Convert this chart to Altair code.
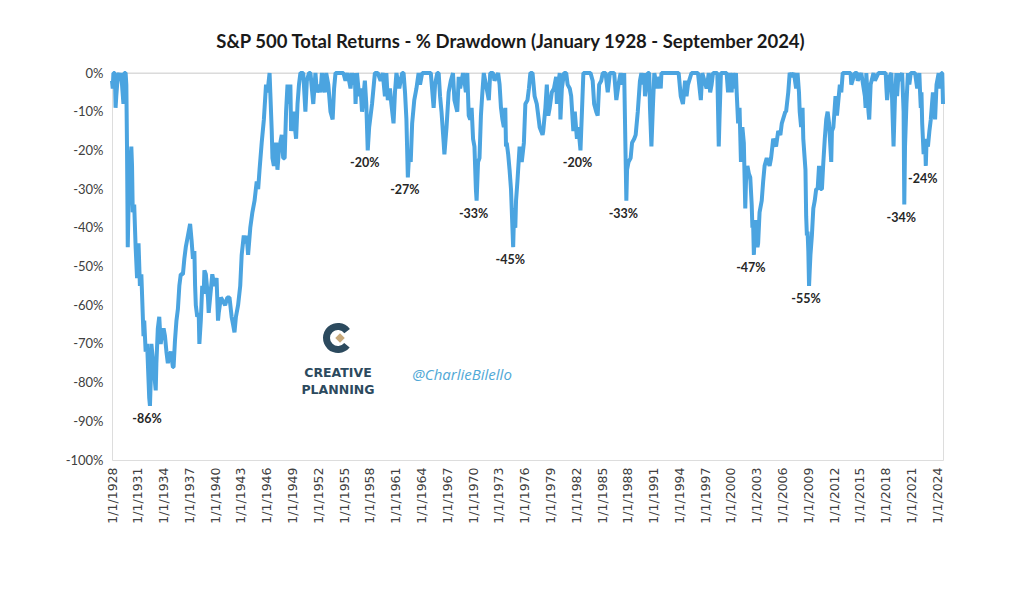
import altair as alt
import pandas as pd

# ---- data (month, % drawdown) ----
dates = [
 "1928-01","1928-02","1928-03","1928-05","1928-06","1928-07","1928-09","1928-11","1928-12",
 "1929-01","1929-03","1929-05","1929-06","1929-08","1929-09","1929-10","1929-11","1929-12",
 "1930-02","1930-04","1930-05","1930-06","1930-08","1930-10","1930-12",
 "1931-02","1931-04","1931-06","1931-09","1931-10","1931-12",
 "1932-02","1932-05","1932-06","1932-07","1932-08","1932-09","1932-11",
 "1933-02","1933-03","1933-05","1933-07","1933-09","1933-11",
 "1934-01","1934-03","1934-05","1934-07","1934-09","1934-11",
 "1935-02","1935-03","1935-05","1935-07","1935-09","1935-11",
 "1936-01","1936-04","1936-06","1936-08","1936-11",
 "1937-02","1937-04","1937-06","1937-08","1937-09","1937-10","1937-12",
 "1938-02","1938-03","1938-05","1938-07","1938-09","1938-10","1938-12",
 "1939-03","1939-04","1939-06","1939-09","1939-12",
 "1940-03","1940-05","1940-06","1940-09","1940-12",
 "1941-03","1941-06","1941-09","1941-12",
 "1942-02","1942-04","1942-06","1942-09","1942-12",
 "1943-02","1943-05","1943-07","1943-09","1943-11",
 "1944-02","1944-05","1944-08","1944-11",
 "1945-01","1945-03","1945-06","1945-09","1945-12",
 "1946-02","1946-05","1946-06","1946-08","1946-09","1946-11",
 "1947-02","1947-04","1947-06","1947-08","1947-10","1947-12",
 "1948-02","1948-04","1948-06","1948-08","1948-10","1948-11",
 "1949-02","1949-06","1949-08","1949-10","1949-12",
 "1950-04","1950-07","1950-09","1950-12",
 "1951-02","1951-06","1951-09","1951-11",
 "1952-02","1952-04","1952-06","1952-10","1952-12",
 "1953-03","1953-06","1953-09","1953-11",
 "1954-01","1954-06","1954-12",
 "1955-03","1955-06","1955-10","1955-12",
 "1956-02","1956-04","1956-05","1956-07","1956-10","1956-12",
 "1957-02","1957-06","1957-08","1957-10","1957-12",
 "1958-04","1958-08","1958-12",
 "1959-04","1959-07","1959-10","1959-12",
 "1960-02","1960-05","1960-07","1960-10","1960-12",
 "1961-02","1961-06","1961-10","1961-12",
 "1962-02","1962-04","1962-06","1962-08","1962-10","1962-12",
 "1963-03","1963-06","1963-09","1963-11",
 "1964-02","1964-06","1964-10",
 "1965-02","1965-06","1965-08","1965-11",
 "1966-01","1966-03","1966-05","1966-08","1966-09","1966-12",
 "1967-03","1967-06","1967-09","1967-11",
 "1968-03","1968-05","1968-07","1968-11",
 "1969-01","1969-03","1969-05","1969-07","1969-09","1969-11",
 "1970-01","1970-03","1970-05","1970-06","1970-08","1970-10","1970-12",
 "1971-02","1971-04","1971-06","1971-08","1971-11",
 "1972-01","1972-05","1972-07","1972-12",
 "1973-02","1973-04","1973-06","1973-08","1973-10","1973-11","1973-12",
 "1974-02","1974-04","1974-06","1974-07","1974-08","1974-09","1974-10","1974-12",
 "1975-01","1975-03","1975-06","1975-09","1975-12",
 "1976-02","1976-05","1976-07","1976-09","1976-12",
 "1977-03","1977-06","1977-08","1977-10",
 "1978-02","1978-03","1978-06","1978-08","1978-10","1978-12",
 "1979-03","1979-06","1979-09","1979-10","1979-12",
 "1980-02","1980-03","1980-05","1980-08","1980-11",
 "1981-01","1981-04","1981-06","1981-09","1981-11",
 "1982-02","1982-04","1982-07","1982-09","1982-11",
 "1983-03","1983-06","1983-09","1983-12",
 "1984-02","1984-05","1984-07","1984-09","1984-12",
 "1985-02","1985-06","1985-09","1985-12",
 "1986-03","1986-06","1986-09","1986-12",
 "1987-03","1987-05","1987-08","1987-10","1987-11","1987-12",
 "1988-02","1988-05","1988-07","1988-10","1988-12",
 "1989-03","1989-06","1989-08","1989-10","1989-12",
 "1990-01","1990-05","1990-07","1990-08","1990-10","1990-12",
 "1991-02","1991-06","1991-09","1991-11","1991-12",
 "1992-04","1992-09",
 "1993-03","1993-12",
 "1994-03","1994-06","1994-09","1994-11",
 "1995-01","1995-06","1995-12",
 "1996-03","1996-07","1996-09",
 "1997-03","1997-04","1997-06","1997-08","1997-10","1997-12",
 "1998-03","1998-06","1998-08","1998-09","1998-11",
 "1999-03","1999-07","1999-09","1999-12",
 "2000-02","2000-03","2000-05","2000-08","2000-09","2000-11",
 "2001-01","2001-03","2001-05","2001-07","2001-09","2001-10","2001-12",
 "2002-02","2002-04","2002-06","2002-07","2002-08","2002-09","2002-10","2002-11",
 "2003-02","2003-03","2003-05","2003-08","2003-10","2003-12",
 "2004-03","2004-07","2004-09","2004-12",
 "2005-04","2005-07","2005-10","2005-12",
 "2006-05","2006-06","2006-09","2006-11",
 "2007-02","2007-05","2007-08","2007-10","2007-12",
 "2008-01","2008-03","2008-05","2008-06","2008-09","2008-10","2008-11","2008-12",
 "2009-01","2009-02","2009-03","2009-04","2009-06","2009-08","2009-10","2009-12",
 "2010-02","2010-04","2010-06","2010-08","2010-10","2010-12",
 "2011-02","2011-04","2011-06","2011-09","2011-10","2011-12",
 "2012-03","2012-05","2012-09","2012-11",
 "2013-01","2013-06","2013-12",
 "2014-01","2014-06","2014-09","2014-10",
 "2015-03","2015-08","2015-09","2015-10",
 "2016-01","2016-02","2016-04","2016-08","2016-10",
 "2017-03","2017-12",
 "2018-01","2018-02","2018-03","2018-06","2018-09","2018-10","2018-12",
 "2019-02","2019-04","2019-05","2019-07","2019-08","2019-12",
 "2020-02","2020-03","2020-04","2020-06","2020-08","2020-10","2020-12",
 "2021-06","2021-09","2021-12",
 "2022-01","2022-02","2022-03","2022-04","2022-06","2022-08","2022-09","2022-10","2022-12",
 "2023-02","2023-04","2023-07","2023-10","2023-12",
 "2024-03","2024-04","2024-07","2024-08","2024-09",
]
drawdown = [
 -2,-4,0,0,-9,-6,-1,0,-2,
 0,-3,-8,0,0,-3,-20,-45,-35,
 -25,-19,-24,-36,-34,-45,-53,
 -44,-55,-52,-68,-64,-72,
 -70,-84,-86,-80,-70,-72,-76,
 -82,-75,-66,-63,-70,-67,
 -66,-68,-72,-75,-73,-72,
 -76,-76,-69,-64,-61,-55,
 -52,-52,-48,-45,-42,
 -39,-43,-48,-46,-55,-60,-63,
 -62,-70,-64,-55,-57,-51,-52,
 -58,-62,-58,-52,-55,
 -53,-64,-62,-58,-59,
 -60,-58,-58,-63,
 -65,-67,-63,-60,-55,
 -47,-42,-44,-42,-47,
 -40,-36,-33,-28,
 -30,-25,-18,-12,-3,
 -5,0,-5,-15,-22,-24,
 -18,-25,-20,-18,-16,-22,
 -22,-10,-3,-8,-3,-15,
 -10,-17,-8,-3,0,
 0,-10,-2,0,
 0,-8,0,-5,
 -3,-5,0,-5,0,
 -3,-10,-12,-4,
 0,0,0,
 -2,0,-4,0,
 -3,0,-8,0,-6,-4,
 -10,-2,-8,-20,-14,
 -8,0,0,
 -2,0,-6,0,
 -7,-4,-8,-13,-5,
 0,-4,0,0,
 -5,-12,-27,-20,-23,-13,
 -7,-4,0,-3,
 0,0,0,
 0,-9,-3,0,
 0,-6,-10,-18,-21,-14,
 -5,-2,0,-7,
 -10,-1,-4,0,
 -2,-5,0,-11,-12,-9,
 -17,-19,-30,-33,-23,-22,-11,
 -5,0,-2,-4,-7,
 0,0,-2,0,
 -3,-9,-12,-14,-9,-19,-18,
 -21,-25,-30,-35,-40,-45,-38,-40,
 -33,-28,-19,-23,-18,
 -8,-7,-4,0,0,
 -6,-8,-11,-14,
 -16,-15,-9,-3,-11,-9,
 -5,-4,-1,-8,-3,
 0,-12,-4,0,0,
 -3,-4,-6,-15,-10,
 -17,-14,-20,-10,0,
 0,0,0,-2,
 -8,-10,-11,-3,-2,
 0,0,-5,0,
 0,0,-7,-3,
 0,-3,0,-22,-33,-25,
 -23,-22,-18,-17,-16,
 -10,-2,0,-3,0,
 -6,0,0,-9,-19,-9,
 0,-4,-1,-4,0,
 0,0,
 0,0,
 -6,-8,-2,-6,
 -3,0,0,
 0,-7,0,
 -4,-3,0,-5,-3,0,
 0,0,-19,-12,0,
 0,0,-5,0,
 -5,0,-4,0,-5,-13,
 -9,-23,-14,-18,-35,-28,-24,
 -26,-27,-34,-40,-39,-47,-42,-38,
 -45,-44,-36,-33,-28,-24,
 -22,-24,-22,-17,
 -19,-15,-16,-13,
 -10,-10,-5,0,
 -1,0,-4,0,-5,
 -10,-14,-9,-17,-25,-37,-42,-41,
 -46,-55,-51,-47,-42,-35,-33,-30,
 -30,-24,-30,-30,-23,-17,
 -12,-10,-13,-23,-15,-14,
 -6,-11,-3,-5,
 0,0,0,
 -3,0,0,-2,
 0,-6,-9,0,
 -10,-12,-3,0,-2,
 0,0,
 0,-4,-7,-1,0,-7,-19,
 -6,0,-6,0,-2,0,
 -10,-34,-19,-8,0,-3,0,
 0,-4,0,
 -5,-9,-5,-13,-21,-17,-24,-18,-19,
 -15,-12,-5,-12,-3,
 0,-4,0,0,-8,
]

# labelled troughs
trough_dates = ["1932-06","1957-10","1962-06","1970-06","1974-09","1982-07",
                "1987-11","2002-09","2009-02","2020-03","2022-09"]
trough_values = [-86,-20,-27,-33,-45,-20,-33,-47,-55,-34,-24]
trough_labels = ["-86%","-20%","-27%","-33%","-45%","-20%",
                 "-33%","-47%","-55%","-34%","-24%"]

tick_years = list(range(1928, 2025, 3))
y_ticks = list(range(-100, 1, 10))

df = pd.DataFrame({"date": dates, "dd": drawdown})
ann = pd.DataFrame({"date": trough_dates, "dd": trough_values, "label": trough_labels})
one = pd.DataFrame({"k": [0]})

LINE = "#4ba4e0"
NAVY = "#2c4a5e"

xscale = alt.Scale(type="utc",
                   domain=[alt.DateTime(year=1928, month=1, date=1, utc=True),
                           alt.DateTime(year=2024, month=9, date=1, utc=True)],
                   nice=False)
yscale = alt.Scale(domain=[-100, 0], nice=False)

x_axis = alt.Axis(values=[alt.DateTime(year=y, month=1, date=1, utc=True) for y in tick_years],
                  labelExpr="'1/1/' + utcFormat(datum.value, '%Y')",
                  labelAngle=-90, labelFont="DejaVu Sans", labelFontSize=12.5,
                  labelColor="#404040", labelPadding=7, ticks=False, domain=False,
                  grid=False, title=None, labelOverlap=False, labelFlush=False,
                  labelBound=False)
y_axis = alt.Axis(values=y_ticks, labelExpr="datum.value + '%'",
                  labelFont="Lato", labelFontSize=13, labelColor="#404040",
                  labelPadding=9, ticks=False, domain=False, grid=False, title=None,
                  labelOverlap=False, labelFlush=False, labelBound=False)

zero_rule = alt.Chart(one).mark_rule(color="#d9d9d9", strokeWidth=1).encode(
    y=alt.datum(0, scale=yscale, axis=y_axis, type="quantitative"))

line = alt.Chart(df).mark_line(color=LINE, strokeWidth=4, strokeJoin="bevel").encode(
    x=alt.X("date:T", scale=xscale, axis=x_axis),
    y=alt.Y("dd:Q", scale=yscale, axis=y_axis),
)

labels = alt.Chart(ann).mark_text(font="Lato", fontWeight="bold", fontSize=12.5,
                                  color="#262626", dy=13, dx=-3, baseline="middle").encode(
    x=alt.X("date:T", scale=xscale, axis=x_axis),
    y=alt.Y("dd:Q", scale=yscale, axis=y_axis),
    text="label:N",
)

# watermark (Creative Planning logo + handle), placed in pixel space
logo_c = alt.Chart(one).mark_arc(color=NAVY).encode(
    x=alt.value(226), y=alt.value(265),
    theta=alt.value(2.25), theta2=alt.value(7.2),
    radius=alt.value(15), radius2=alt.value(8))
logo_d = alt.Chart(one).mark_point(shape="diamond", filled=True, color="#c8a97a",
                                   opacity=1, size=90).encode(
    x=alt.value(228), y=alt.value(265))
creative = alt.Chart(one).mark_text(text="CREATIVE", font="DejaVu Sans", fontWeight="bold",
                                    fontSize=12.5, color=NAVY).encode(
    x=alt.value(226), y=alt.value(300))
planning = alt.Chart(one).mark_text(text="PLANNING", font="DejaVu Sans", fontWeight="bold",
                                    fontSize=12.5, color=NAVY).encode(
    x=alt.value(226), y=alt.value(317))
handle = alt.Chart(one).mark_text(text="@CharlieBilello", font="Open Sans", fontStyle="italic",
                                  fontSize=15, color="#4fa8d6").encode(
    x=alt.value(350), y=alt.value(302))

chart = alt.layer(zero_rule, line, labels, logo_c, logo_d, creative, planning, handle).properties(
    width=831, height=387,
    title=alt.TitleParams("S&P 500 Total Returns - % Drawdown (January 1928 - September 2024)",
                          font="Lato", fontSize=18.5, fontWeight="bold", color="#1a1a1a",
                          anchor="middle", dx=-17, offset=16),
    autosize=alt.AutoSizeParams(type="none"),
    padding={"left": 104, "top": 65, "right": 60, "bottom": 110},
).configure_view(stroke=None).configure(background="white")

chart.save("out.html", embed_options={"renderer": "svg", "actions": False})
